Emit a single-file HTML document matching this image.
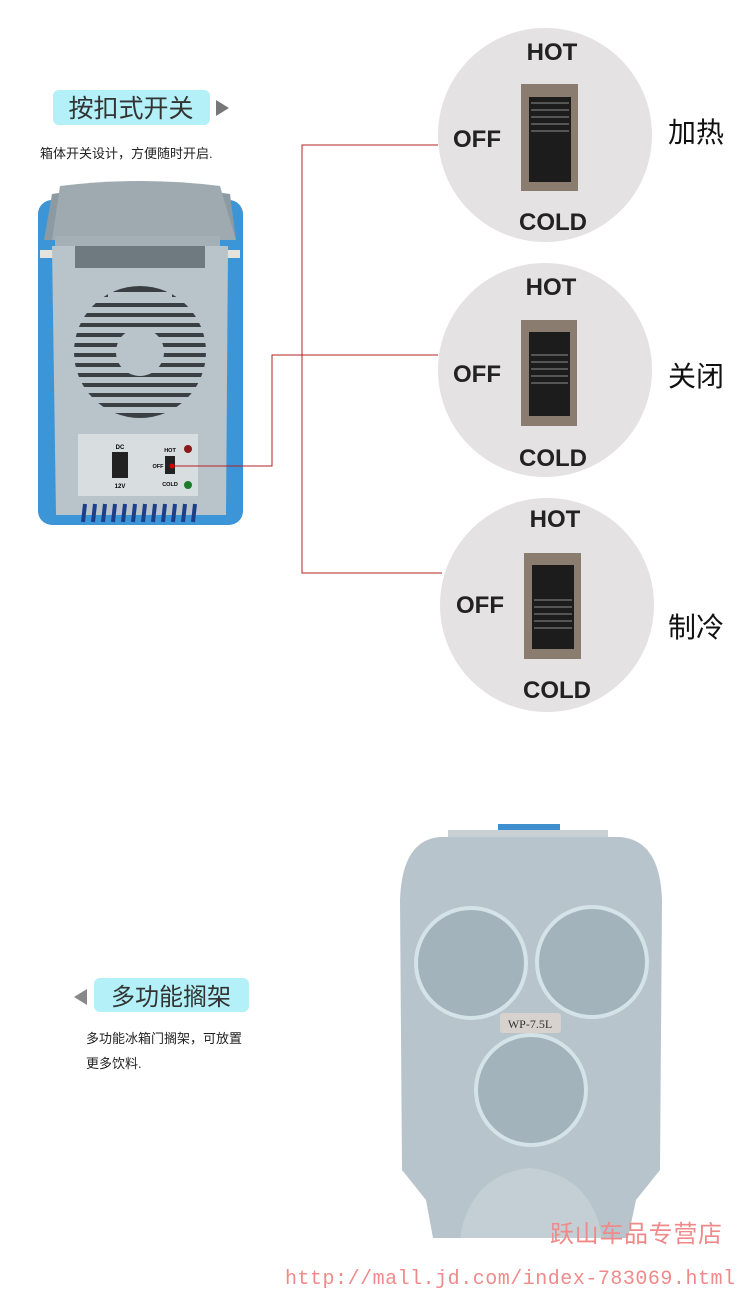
<!DOCTYPE html>
<html><head><meta charset="utf-8"><style>
body{margin:0;background:#fff;}
.w{position:relative;width:750px;height:1296px;overflow:hidden;font-family:"Liberation Sans","Noto Sans CJK SC",sans-serif;}
</style></head><body><div class="w">
<svg width="750" height="1296" style="position:absolute;left:0;top:0" font-family="Liberation Sans, Noto Sans CJK SC, sans-serif">
<rect x="53" y="90" width="157" height="35" rx="6" fill="#b3f0f8"/>
<text x="131" y="117" font-size="25" fill="#333" text-anchor="middle">按扣式开关</text>
<polygon points="216,100 229,108 216,116" fill="#777"/>
<text x="40" y="158" font-size="13" fill="#222">箱体开关设计，方便随时开启.</text>
<rect x="38" y="200" width="205" height="325" rx="14" fill="#3c95d6"/>
<rect x="40" y="250" width="200" height="8" fill="#e6e3dc"/>
<path d="M52,194 Q140,180 230,194 L236,240 L44,240 Z" fill="#8c9aa3"/>
<path d="M60,186 Q140,176 220,186 L236,240 L52,240 Z" fill="#9ea9b0"/>
<rect x="55" y="236" width="165" height="10" fill="#a5b0b6"/>
<rect x="75" y="246" width="130" height="22" fill="#6f7a80"/>
<path d="M52,246 L75,246 L75,268 L205,268 L205,246 L228,246 L226,515 L56,515 Z" fill="#b9c4ca"/>
<circle cx="140" cy="352" r="66" fill="#3a3f44"/>
<g stroke="#b9c4ca" stroke-width="6">
<line x1="70" y1="300" x2="210" y2="300"/><line x1="70" y1="310" x2="210" y2="310"/><line x1="70" y1="320" x2="210" y2="320"/><line x1="70" y1="330" x2="210" y2="330"/><line x1="70" y1="340" x2="210" y2="340"/><line x1="70" y1="350" x2="210" y2="350"/><line x1="70" y1="360" x2="210" y2="360"/><line x1="70" y1="370" x2="210" y2="370"/><line x1="70" y1="380" x2="210" y2="380"/><line x1="70" y1="390" x2="210" y2="390"/><line x1="70" y1="400" x2="210" y2="400"/><line x1="70" y1="410" x2="210" y2="410"/>
</g>
<circle cx="140" cy="352" r="24" fill="#b9c4ca"/>
<rect x="108" y="292" width="64" height="10" fill="#b9c4ca"/>
<rect x="78" y="434" width="120" height="62" fill="#d8dde0"/>
<rect x="112" y="452" width="16" height="26" fill="#222"/>
<text x="120" y="449" font-size="6" text-anchor="middle" font-weight="bold">DC</text>
<text x="120" y="488" font-size="6" text-anchor="middle" font-weight="bold">12V</text>
<rect x="165" y="456" width="10" height="18" fill="#222"/>
<text x="170" y="452" font-size="5.5" text-anchor="middle" font-weight="bold">HOT</text>
<text x="158" y="468" font-size="5.5" text-anchor="middle" font-weight="bold">OFF</text>
<text x="170" y="486" font-size="5.5" text-anchor="middle" font-weight="bold">COLD</text>
<circle cx="188" cy="449" r="4" fill="#8b1a1a"/><circle cx="188" cy="485" r="4" fill="#1f7a2a"/>
<g stroke="#1d3f8a" stroke-width="4"><line x1="85" y1="504" x2="83" y2="522"/><line x1="95" y1="504" x2="93" y2="522"/><line x1="105" y1="504" x2="103" y2="522"/><line x1="115" y1="504" x2="113" y2="522"/><line x1="125" y1="504" x2="123" y2="522"/><line x1="135" y1="504" x2="133" y2="522"/><line x1="145" y1="504" x2="143" y2="522"/><line x1="155" y1="504" x2="153" y2="522"/><line x1="165" y1="504" x2="163" y2="522"/><line x1="175" y1="504" x2="173" y2="522"/><line x1="185" y1="504" x2="183" y2="522"/><line x1="195" y1="504" x2="193" y2="522"/></g>
<g stroke="#b32020" stroke-width="1" fill="none">
<polyline points="438,145 302,145 302,573 442,573"/>
<polyline points="172,466 272,466 272,355 438,355"/>
</g>
<circle cx="172" cy="466" r="2.5" fill="#d00"/>
<circle cx="545" cy="135" r="107" fill="#e4e2e2"/>
<rect x="521" y="84" width="57" height="107" fill="#8a7d70"/>
<rect x="529" y="97" width="42" height="85" fill="#1c1c1c"/>
<g stroke="#555" stroke-width="2"><line x1="531" y1="103" x2="569" y2="103"/><line x1="531" y1="110" x2="569" y2="110"/><line x1="531" y1="117" x2="569" y2="117"/><line x1="531" y1="124" x2="569" y2="124"/><line x1="531" y1="131" x2="569" y2="131"/></g>
<text x="552" y="60" font-size="24" font-weight="bold" text-anchor="middle" fill="#222">HOT</text>
<text x="477" y="147" font-size="24" font-weight="bold" text-anchor="middle" fill="#222">OFF</text>
<text x="553" y="230" font-size="24" font-weight="bold" text-anchor="middle" fill="#222">COLD</text>
<circle cx="545" cy="370" r="107" fill="#e4e2e2"/>
<rect x="521" y="320" width="56" height="106" fill="#8a7d70"/>
<rect x="529" y="332" width="41" height="84" fill="#1c1c1c"/>
<g stroke="#555" stroke-width="2"><line x1="531" y1="355" x2="568" y2="355"/><line x1="531" y1="362" x2="568" y2="362"/><line x1="531" y1="369" x2="568" y2="369"/><line x1="531" y1="376" x2="568" y2="376"/><line x1="531" y1="383" x2="568" y2="383"/></g>
<text x="551" y="295" font-size="24" font-weight="bold" text-anchor="middle" fill="#222">HOT</text>
<text x="477" y="382" font-size="24" font-weight="bold" text-anchor="middle" fill="#222">OFF</text>
<text x="553" y="466" font-size="24" font-weight="bold" text-anchor="middle" fill="#222">COLD</text>
<circle cx="547" cy="605" r="107" fill="#e4e2e2"/>
<rect x="524" y="553" width="57" height="106" fill="#8a7d70"/>
<rect x="532" y="565" width="42" height="84" fill="#1c1c1c"/>
<g stroke="#555" stroke-width="2"><line x1="534" y1="600" x2="572" y2="600"/><line x1="534" y1="607" x2="572" y2="607"/><line x1="534" y1="614" x2="572" y2="614"/><line x1="534" y1="621" x2="572" y2="621"/><line x1="534" y1="628" x2="572" y2="628"/></g>
<text x="555" y="527" font-size="24" font-weight="bold" text-anchor="middle" fill="#222">HOT</text>
<text x="480" y="613" font-size="24" font-weight="bold" text-anchor="middle" fill="#222">OFF</text>
<text x="557" y="698" font-size="24" font-weight="bold" text-anchor="middle" fill="#222">COLD</text>
<text x="668" y="142" font-size="28" fill="#111">加热</text>
<text x="668" y="386" font-size="28" fill="#111">关闭</text>
<text x="668" y="637" font-size="28" fill="#111">制冷</text>
<polygon points="87,989 74,997 87,1005" fill="#888"/>
<rect x="94" y="978" width="155" height="34" rx="6" fill="#b3f0f8"/>
<text x="171" y="1005" font-size="24" fill="#333" text-anchor="middle">多功能搁架</text>
<text x="86" y="1043" font-size="13" fill="#222">多功能冰箱门搁架，可放置</text>
<text x="86" y="1068" font-size="13" fill="#222">更多饮料.</text>
<rect x="498" y="824" width="62" height="14" fill="#3f8fcf"/>
<rect x="448" y="830" width="160" height="8" fill="#c9d0d4"/>
<path d="M440,837 L620,837 Q660,840 662,900 L660,1170 L636,1200 L628,1238 L433,1238 L426,1200 L402,1170 L400,900 Q402,840 440,837 Z" fill="#b8c4cb"/>
<path d="M460,1238 Q470,1175 530,1168 Q592,1175 602,1238 Z" fill="#c4cfd5"/>
<g fill="#a2b3bc" stroke="#d4e3e8" stroke-width="4">
<circle cx="471" cy="963" r="55"/><circle cx="592" cy="962" r="55"/><circle cx="531" cy="1090" r="55"/>
</g>
<rect x="500" y="1013" width="61" height="20" rx="3" fill="#d7d2cd"/>
<text x="530" y="1028" font-size="12" text-anchor="middle" fill="#333" font-family="Liberation Serif, serif">WP-7.5L</text>
<text x="550" y="1242" font-size="24" fill="#f08a8a" textLength="172">跃山车品专营店</text>
<text x="285" y="1284" font-size="20" fill="#f08a8a" font-family="Liberation Mono, monospace" textLength="450">http://mall.jd.com/index-783069.html</text>
</svg>
</div></body></html>
